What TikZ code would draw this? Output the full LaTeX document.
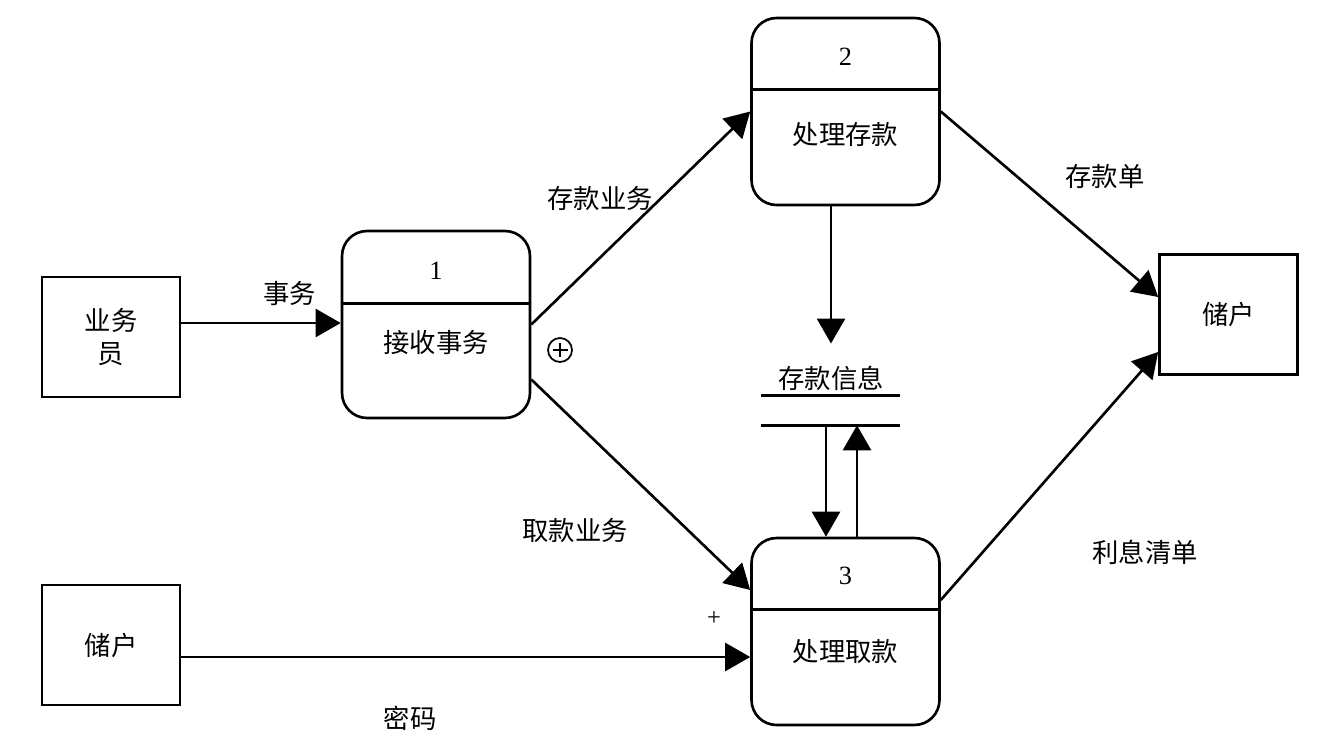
\documentclass[tikz,border=0pt]{standalone}
\usepackage{fontspec}
\setmainfont{Liberation Serif}
\newfontfamily\cjk{Noto Sans CJK SC}
\usetikzlibrary{arrows.meta}

\begin{document}
\begin{tikzpicture}[
    x=0.02cm, y=-0.02cm, line width=1.5pt,
    font=\cjk\fontsize{15}{19}\selectfont,
    proc/.style={draw, rounded corners=0.5cm, minimum width=3.76cm, minimum height=3.74cm},
    ent/.style={draw, minimum width=2.76cm, minimum height=2.4cm, align=center},
    num/.style={font=\rmfamily\fontsize{15}{18}\selectfont},
    flow/.style={-{Triangle[length=0.5cm, width=0.56cm]}}
]
    \useasboundingbox (0,0) rectangle (1325,753);

    % External entities
    \node[ent] (clerk) at (111, 337) {业务\\员};
    \node[ent] (custR) at (1228.5, 314.5) {储户};
    \node[ent] (custL) at (111, 645) {储户};

    % Process 1
    \node[proc] (p1) at (436, 324.5) {};
    \draw ([yshift=-1.48cm]p1.north west) -- ([yshift=-1.48cm]p1.north east);
    \node[num] (n1) at ([yshift=-0.82cm]p1.north) {1};
    \node (t1) at ([yshift=-0.37cm]p1.center) {接收事务};

    % Process 2
    \node[proc] (p2) at (845.5, 111.5) {};
    \draw ([yshift=-1.46cm]p2.north west) -- ([yshift=-1.46cm]p2.north east);
    \node[num] (n2) at ([yshift=-0.8cm]p2.north) {2};
    \node (t2) at ([yshift=-0.47cm]p2.center) {处理存款};

    % Process 3
    \node[proc] (p3) at (845.5, 631.5) {};
    \draw ([yshift=-1.46cm]p3.north west) -- ([yshift=-1.46cm]p3.north east);
    \node[num] (n3) at ([yshift=-0.78cm]p3.north) {3};
    \node (t3) at ([yshift=-0.39cm]p3.center) {处理取款};

    % Data store
    \node[minimum width=2.74cm, minimum height=0.54cm] (ds) at (830.5, 410.5) {};
    \draw (ds.north west) -- (ds.north east);
    \draw (ds.south west) -- (ds.south east);
    \node (dsl) at (831, 378) {存款信息};

    % Flows
    \draw[flow] ([yshift=0.28cm]clerk.east) -- ([yshift=0.28cm]clerk.east -| p1.west)
        node[pos=0.68, above=0.2cm] (l1) {事务};
    \draw[flow] (p1.east) -- (p2.west);
    \draw[flow] ([yshift=-1.1cm]p1.east) -- ([yshift=0.83cm]p3.west);
    \draw[flow] (p2.east) -- ([yshift=0.35cm]custR.west);
    \draw[flow] ([yshift=0.63cm]p3.east) -- ([yshift=-0.75cm]custR.west);
    \draw[flow] ([yshift=-0.24cm]custL.east) -- ([yshift=-0.24cm]custL.east -| p3.west);
    \draw[flow] (dsl.north |- p2.south) -- ([yshift=0.3cm]dsl.north);
    \draw[flow] ([xshift=-0.09cm]ds.south) -- ([xshift=-0.09cm]ds.south |- p3.north);
    \draw[flow] ([xshift=0.53cm]ds.south |- p3.north) -- ([xshift=0.53cm]ds.south);

    % Flow labels
    \node (l2) at (600, 198) {存款业务};
    \node (l3) at (575, 530) {取款业务};
    \node (l4) at (1105, 176) {存款单};
    \node (l5) at (1145, 552) {利息清单};
    \node (l6) at (410, 718) {密码};

    % Branch marks
    \node[circle, draw, line width=1pt, minimum size=0.48cm, inner sep=0] (xor) at (560, 350) {};
    \draw[line width=1pt] ([yshift=0.15cm]xor.center) -- ([yshift=-0.15cm]xor.center);
    \draw[line width=1pt] ([xshift=-0.15cm]xor.center) -- ([xshift=0.15cm]xor.center);
    \node[font=\rmfamily\fontsize{14}{16}\selectfont] (plus) at (714, 619) {+};
\end{tikzpicture}
\end{document}
